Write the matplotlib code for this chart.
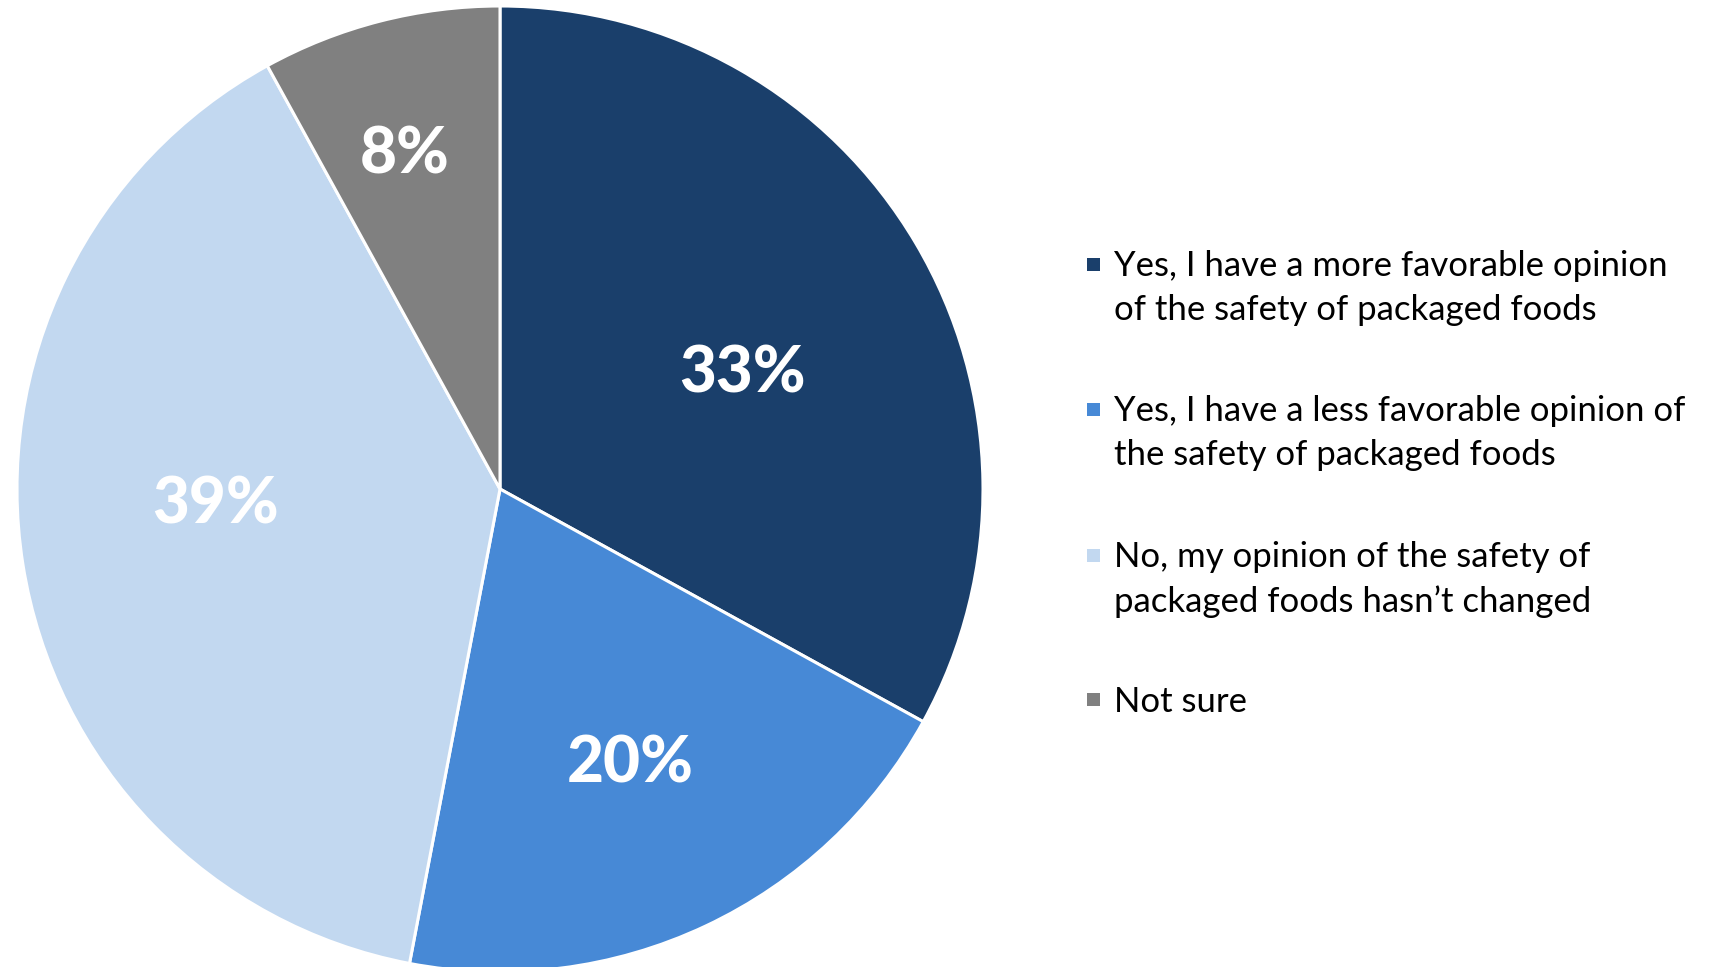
import numpy as np
import matplotlib.pyplot as plt
from matplotlib.patches import Rectangle

labels = ['Yes, I have a more favorable opinion\nof the safety of packaged foods',
          'Yes, I have a less favorable opinion of\nthe safety of packaged foods',
          'No, my opinion of the safety of\npackaged foods hasn\u2019t changed',
          'Not sure']
values = [33, 20, 39, 8]
colors = ['#1A3F6B', '#4789D6', '#C2D8F0', '#808080']

plt.rcParams['font.family'] = ['Lato', 'DejaVu Sans']

W, H = 1711, 967
fig = plt.figure(figsize=(W / 100, H / 100), dpi=100)
ax = fig.add_axes([0, 0, 1, 1])

cx, cy, r = 500, H - 489, 483
wedges, _ = ax.pie(values, colors=colors, startangle=90, counterclock=False,
                   center=(cx, cy), radius=r, frame=True,
                   wedgeprops=dict(edgecolor='white', linewidth=2.2))
ax.set_xlim(0, W)
ax.set_ylim(0, H)
ax.axis('off')

# per-wedge label placement: distance (fraction of radius), angle shift (deg)
dist = [0.56, 0.62, 0.59, 0.73]
shift = [-4.2, 0.5, -6.8, 1.2]
for w, v, d, s in zip(wedges, values, dist, shift):
    ang = np.deg2rad((w.theta1 + w.theta2) / 2 + s)
    ax.text(cx + d * r * np.cos(ang), cy + d * r * np.sin(ang), f'{v}%',
            color='white', fontsize=46, fontweight=900,
            ha='center', va='center_baseline')

# legend: square aligned with first line of each entry
ys = [264, 409, 555, 699]
for y, lab, c in zip(ys, labels, colors):
    ax.add_patch(Rectangle((1087, H - y - 7), 13, 13, color=c, lw=0))
    if '\n' in lab:
        ax.text(1114, H - y + 14, lab, fontsize=25, color='black',
                ha='left', va='top', linespacing=1.45)
    else:
        ax.text(1114, H - y, lab, fontsize=25, color='black',
                ha='left', va='center_baseline')

fig.savefig('out.png', dpi=100)
